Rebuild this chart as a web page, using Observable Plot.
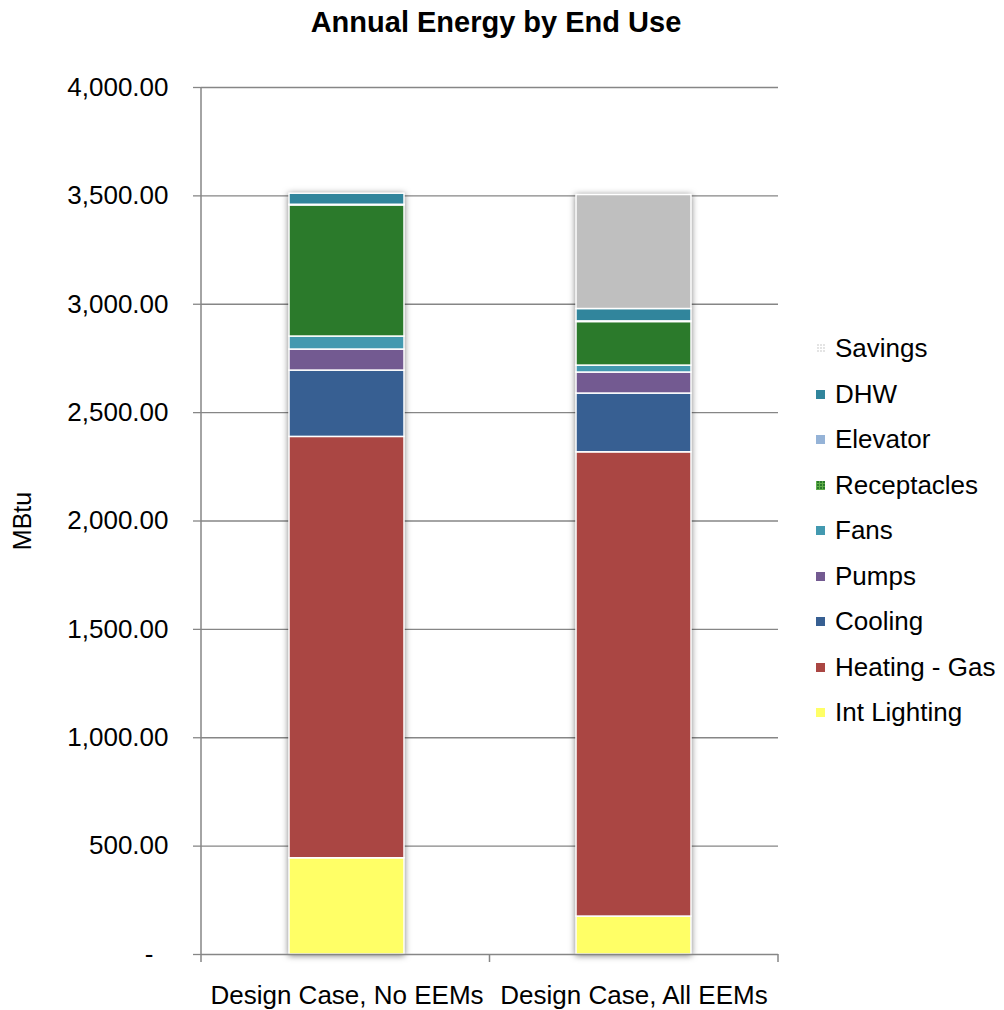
<!DOCTYPE html>
<html>
<head>
<meta charset="utf-8">
<script src="https://cdn.jsdelivr.net/npm/d3@7"></script>
<script src="https://cdn.jsdelivr.net/npm/@observablehq/plot@0.6"></script>
<style>
  html, body { margin: 0; padding: 0; background: #fff; }
  #wrap { position: relative; width: 1004px; height: 1010px; font-family: "Liberation Sans", Arial, sans-serif; color: #000; }
  #title { position: absolute; top: 4px; left: 0; width: 992px; text-align: center; font-weight: bold; font-size: 29px; line-height: 36px; }
  #chart { position: absolute; top: 60px; left: 0; }
  #legend { position: absolute; left: 816px; top: 326px; }
  .row { display: flex; align-items: center; height: 45.5px; font-size: 26px; white-space: nowrap; }
  .sw { width: 9px; height: 9px; margin-right: 10px; flex: none; }
</style>
</head>
<body>
<div id="wrap">
  <div id="title">Annual Energy by End Use</div>
  <div id="chart"></div>
  <div id="legend"></div>
</div>
<script>
const cases = ["Design Case, No EEMs", "Design Case, All EEMs"];
const uses = ["Int Lighting", "Heating - Gas", "Cooling", "Pumps", "Fans", "Receptacles", "Elevator", "DHW", "Savings"];
const useColors = ["#FFFF66", "#AA4643", "#375F92", "#735A91", "#4399B0", "#2B7A2B", "#95B3D7", "#31859C", "#BFBFBF"];
const noEEMs  = [444, 1944, 306, 97, 60, 605, 3, 51, 0];
const allEEMs = [175, 2142, 271, 97, 32, 201, 3, 57, 526];
const yTicks = [0, 500, 1000, 1500, 2000, 2500, 3000, 3500, 4000];
const legendOrder = ["Savings", "DHW", "Elevator", "Receptacles", "Fans", "Pumps", "Cooling", "Heating - Gas", "Int Lighting"];

const series = [noEEMs, allEEMs];
const data = cases.flatMap((c, i) => uses.map((u, j) => ({case: c, use: u, value: series[i][j]})))
  .filter(d => d.value > 0);

const fmt = d3.format(",.2f");
const grid = "#868686";

const chart = Plot.plot({
  width: 1004,
  height: 950,
  marginLeft: 201,
  marginRight: 226,
  marginTop: 27,
  marginBottom: 56,
  style: {fontFamily: "'Liberation Sans', Arial, sans-serif", fontSize: "26px", color: "#000", background: "white", overflow: "visible"},
  x: {domain: cases, paddingInner: 0.6, paddingOuter: 0.305, label: null},
  y: {domain: [0, 4000], label: null},
  color: {domain: uses, range: useColors},
  marks: [
    Plot.gridY(yTicks.filter(d => d > 0), {stroke: grid, strokeOpacity: 1, strokeWidth: 1.3}),
    Plot.axisY(yTicks, {tickSize: 8, tickPadding: 25, stroke: grid, strokeWidth: 1.3, tickFormat: d => d === 0 ? "" : fmt(d), label: null, fill: "#000"}),
    Plot.text([0], {y: d => d, text: () => "-", frameAnchor: "left", dx: -48, textAnchor: "end", fill: "#000"}),
    Plot.barY(data, {x: "case", y: "value", fill: "use", order: uses, stroke: "white", strokeWidth: 1.5}),
    Plot.ruleY([0], {stroke: grid, strokeWidth: 1.5}),
    Plot.axisX({tickSize: 0, tickPadding: 31, label: null, fill: "#000"}),
    Plot.text(["MBtu"], {text: d => d, frameAnchor: "left", dx: -179, rotate: -90, textAnchor: "middle", fontSize: 25, fill: "#000"})
  ]
});
document.getElementById("chart").appendChild(chart);

// bar shadow
d3.select(chart).selectAll('g[aria-label="bar"]').style("filter", "drop-shadow(0px 1px 3px rgba(0,0,0,0.5))");

// axis lines and category boundary ticks from the plot's scales
const xs = chart.scale("x"), ys = chart.scale("y");
const [x0, x1] = xs.range;
const y0 = ys.apply(0), yTop = ys.apply(4000);
const svg = d3.select(chart);
svg.append("line").attr("x1", x0).attr("x2", x0).attr("y1", yTop).attr("y2", y0)
  .attr("stroke", grid).attr("stroke-width", 1.5);
[x0, (x0 + x1) / 2, x1].forEach(x => {
  svg.append("line").attr("x1", x).attr("x2", x).attr("y1", y0).attr("y2", y0 + 8)
    .attr("stroke", grid).attr("stroke-width", 1.5);
});

// legend
const legend = d3.select("#legend");
legendOrder.forEach(u => {
  const c = useColors[uses.indexOf(u)];
  const row = legend.append("div").attr("class", "row");
  const sw = row.append("div").attr("class", "sw").style("background-color", c);
  if (u === "Savings") {
    sw.style("background-color", "#e4e4e4")
      .style("background-image", "repeating-linear-gradient(0deg, #ffffff 0 1px, transparent 1px 3px), repeating-linear-gradient(90deg, #ffffff 0 1px, transparent 1px 3px)");
  } else if (u === "Receptacles") {
    sw.style("background-image", "repeating-linear-gradient(0deg, #5fae4a 0 1px, transparent 1px 3px), repeating-linear-gradient(90deg, #5fae4a 0 1px, transparent 1px 3px)");
  }
  row.append("span").text(u);
});
</script>
</body>
</html>
